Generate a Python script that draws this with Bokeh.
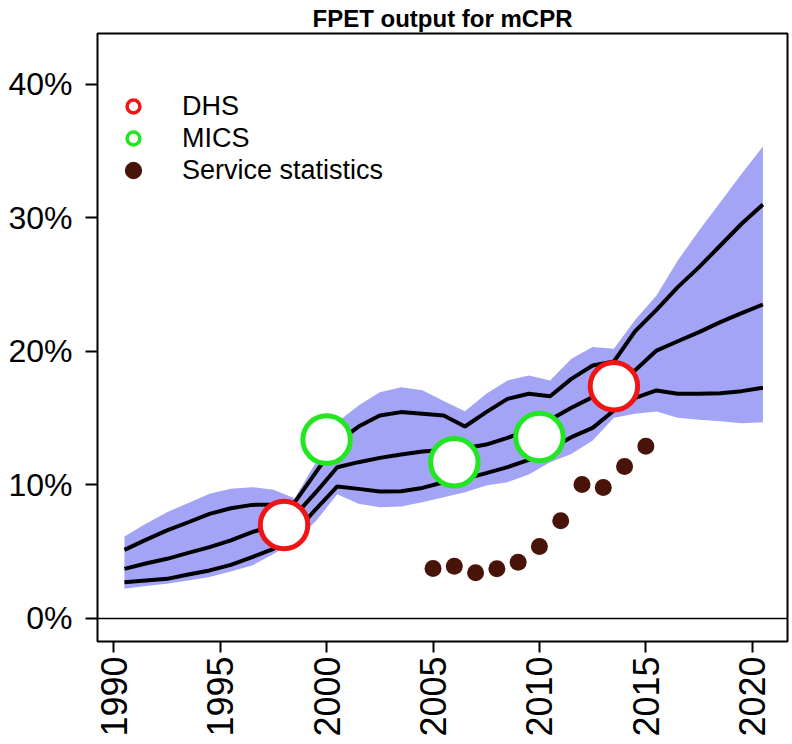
import math
from bokeh.plotting import figure
from bokeh.models import Range1d, FixedTicker, Span, Legend, LegendItem
from bokeh.embed import file_html
from bokeh.resources import INLINE

# ---------------- data ----------------
years = [1990.5, 1991.5, 1992.5, 1993.5, 1994.5, 1995.5, 1996.5, 1997.5, 1998.5, 1999.5,
         2000.5, 2001.5, 2002.5, 2003.5, 2004.5, 2005.5, 2006.5, 2007.5, 2008.5, 2009.5,
         2010.5, 2011.5, 2012.5, 2013.5, 2014.5, 2015.5, 2016.5, 2017.5, 2018.5, 2019.5,
         2020.5]
lower95 = [2.22, 2.43, 2.60, 2.85, 3.10, 3.52, 3.97, 4.84, 5.80, 7.30,
           9.30, 8.59, 8.34, 8.39, 8.71, 9.09, 9.46, 9.96, 10.21, 10.78,
           11.71, 12.33, 13.33, 15.03, 15.33, 15.50, 15.03, 14.88, 14.78, 14.63,
           14.70]
lower80 = [2.72, 2.85, 2.97, 3.29, 3.60, 4.02, 4.60, 5.22, 6.40, 8.20,
           9.89, 9.71, 9.51, 9.53, 9.78, 10.21, 10.46, 10.89, 11.34, 11.88,
           12.71, 13.58, 14.28, 15.58, 16.53, 17.08, 16.83, 16.83, 16.88, 17.03,
           17.28]
median = [3.72, 4.12, 4.47, 4.92, 5.35, 5.85, 6.47, 6.97, 7.70, 9.46,
          11.33, 11.71, 12.03, 12.28, 12.51, 12.62, 12.75, 13.03, 13.53, 14.13,
          14.88, 15.78, 16.58, 17.45, 18.60, 20.07, 20.77, 21.45, 22.20, 22.87,
          23.52]
upper80 = [5.14, 5.89, 6.60, 7.21, 7.84, 8.26, 8.51, 8.54, 8.70, 10.96,
           13.20, 14.38, 15.21, 15.46, 15.33, 15.20, 14.38, 15.46, 16.45, 16.83,
           16.65, 17.95, 18.95, 19.25, 21.52, 23.12, 24.82, 26.32, 27.94, 29.57,
           31.01]
upper95 = [6.14, 7.09, 7.96, 8.66, 9.34, 9.72, 9.84, 9.64, 9.00, 11.70,
           14.70, 15.95, 16.95, 17.33, 17.10, 16.30, 15.53, 16.83, 17.83, 18.20,
           17.83, 19.45, 20.33, 20.20, 22.37, 24.19, 26.81, 29.06, 31.18, 33.31,
           35.36]

dhs_years = [1998, 2013.5]
dhs_values = [7.0, 17.4]
mics_years = [2000, 2006, 2010]
mics_values = [13.4, 11.7, 13.6]
service_years = [2005, 2006, 2007, 2008, 2009, 2010, 2011, 2012, 2013, 2014, 2015]
service_values = [3.75, 3.92, 3.42, 3.72, 4.22, 5.39, 7.32, 10.04, 9.81, 11.39, 12.91]

x_ticks = [1990, 1995, 2000, 2005, 2010, 2015, 2020]
y_ticks = [0, 10, 20, 30, 40]
y_tick_labels = ["0%", "10%", "20%", "30%", "40%"]
title_text = "FPET output for mCPR"
legend_labels = ["DHS", "MICS", "Service statistics"]

# ---------------- styles ----------------
BAND = "#A4A4F6"
RED = "#F01414"
GREEN = "#22E622"
BROWN = "#48140A"
FONT = "Liberation Sans"

p = figure(width=792, height=744, output_backend="svg", toolbar_location=None,
           x_range=Range1d(1989.234, 2021.656), y_range=Range1d(-1.723, 43.82),
           min_border_left=97, min_border_right=5, min_border_top=33, min_border_bottom=103,
           title=title_text)
p.title.align = "center"
p.title.text_font = FONT
p.title.text_font_size = "24px"
p.title.text_font_style = "bold"
p.title.text_color = "black"
p.title.standoff = 4
p.title.offset = 5

p.xgrid.visible = False
p.ygrid.visible = False
p.outline_line_color = "black"
p.outline_line_width = 2
p.background_fill_color = "white"
p.border_fill_color = "white"

for ax in (p.xaxis[0], p.yaxis[0]):
    ax.axis_line_color = None
    ax.minor_tick_line_color = None
    ax.major_tick_in = 0
    ax.major_tick_line_color = "black"
    ax.major_tick_line_width = 2
    ax.major_label_text_font = FONT
    ax.major_label_text_color = "black"

p.xaxis.ticker = FixedTicker(ticks=x_ticks)
p.xaxis.major_tick_out = 11
p.xaxis.major_label_standoff = 4
p.xaxis.major_label_orientation = math.pi / 2
p.xaxis.major_label_text_font_size = "36px"

p.yaxis.ticker = FixedTicker(ticks=y_ticks)
p.yaxis.major_label_overrides = {t: l for t, l in zip(y_ticks, y_tick_labels)}
p.yaxis.major_tick_out = 12
p.yaxis.major_label_standoff = 13
p.yaxis.major_label_text_font_size = "32px"

# band and lines
p.varea(x=years, y1=lower95, y2=upper95, fill_color=BAND, fill_alpha=1.0)
for series in (lower80, median, upper80):
    p.line(years, series, line_color="black", line_width=4)

p.add_layout(Span(location=0, dimension="width", line_color="black", line_width=1.5))

# observations
p.scatter(service_years, service_values, marker="circle", size=17,
          fill_color=BROWN, line_color=BROWN, line_width=0)
p.scatter(dhs_years, dhs_values, marker="circle", size=47.5,
          fill_color="white", line_color=RED, line_width=5)
p.scatter(mics_years, mics_values, marker="circle", size=47.5,
          fill_color="white", line_color=GREEN, line_width=5)

# legend renderers (one point outside the visible ranges, styled for the legend)
leg_dhs = p.scatter(x=[1900], y=[-100], marker="circle", fill_color="white", line_color=RED, line_width=3.5)
leg_mics = p.scatter(x=[1900], y=[-100], marker="circle", fill_color="white", line_color=GREEN, line_width=3.5)
leg_ss = p.scatter(x=[1900], y=[-100], marker="circle", fill_color=BROWN, line_color=BROWN, line_width=4.5)

legend = Legend(items=[LegendItem(label=legend_labels[0], renderers=[leg_dhs]),
                       LegendItem(label=legend_labels[1], renderers=[leg_mics]),
                       LegendItem(label=legend_labels[2], renderers=[leg_ss])],
                location=(17, 455), orientation="vertical",
                glyph_width=38, glyph_height=32, label_height=32, spacing=0,
                label_standoff=30, padding=0, margin=0,
                border_line_color=None, background_fill_alpha=0,
                label_text_font=FONT, label_text_font_size="27px", label_text_color="black")
p.add_layout(legend)

open("out.html", "w").write(file_html(p, INLINE))
